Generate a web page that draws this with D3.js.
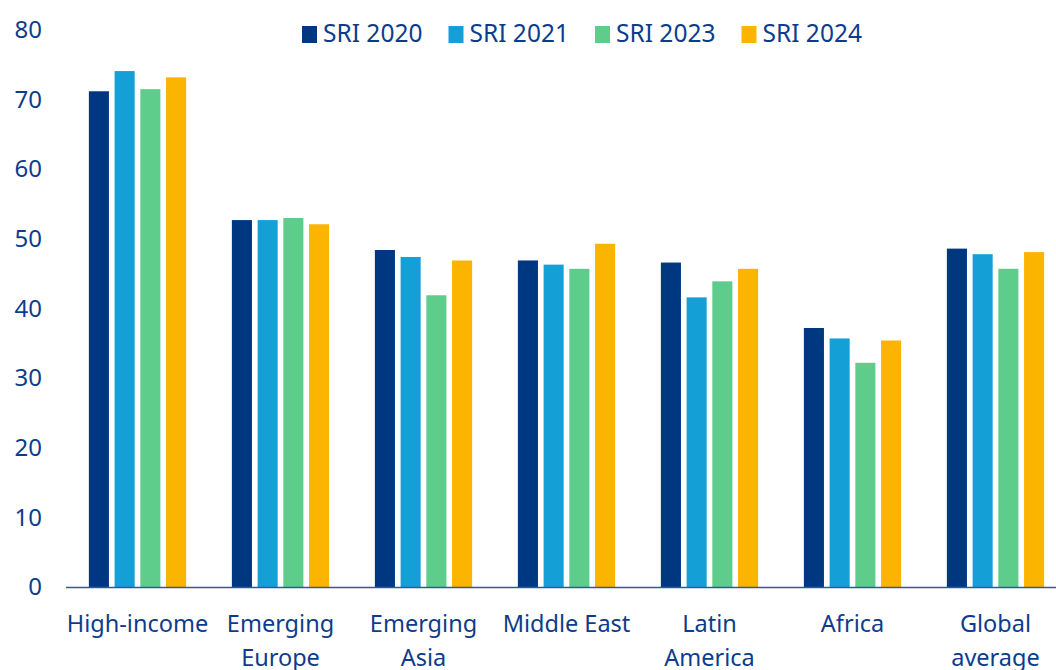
<!DOCTYPE html>
<html>
<head>
<meta charset="utf-8">
<script src="https://d3js.org/d3.v7.min.js"></script>
<style>
  body { margin: 0; background: #fff; }
  text { font-family: "Noto Sans", sans-serif; fill: #0d3c8c; }
</style>
</head>
<body>
<svg id="chart" width="1056" height="670"></svg>
<script>
  // data
  const regions = [["High-income"], ["Emerging", "Europe"], ["Emerging", "Asia"], ["Middle East"],
                   ["Latin", "America"], ["Africa"], ["Global", "average"]];
  const seriesNames = ["SRI 2020", "SRI 2021", "SRI 2023", "SRI 2024"];
  const sri2020 = [71.2, 52.7, 48.4, 46.9, 46.6, 37.2, 48.6];
  const sri2021 = [74.1, 52.7, 47.4, 46.3, 41.6, 35.7, 47.8];
  const sri2023 = [71.5, 53.0, 41.9, 45.7, 43.9, 32.2, 45.7];
  const sri2024 = [73.2, 52.1, 46.9, 49.3, 45.7, 35.4, 48.1];
  const yTicks = [0, 10, 20, 30, 40, 50, 60, 70, 80];
  const colors = ["#003781", "#14a0d6", "#5ecc8a", "#fbb400"];

  const series = [sri2020, sri2021, sri2023, sri2024];
  const svg = d3.select("#chart");

  const x0 = d3.scaleBand()
    .domain(d3.range(regions.length))
    .range([66, 1067])
    .paddingInner(0.32)
    .paddingOuter(0.16);
  const x1 = d3.scaleBand()
    .domain(d3.range(seriesNames.length))
    .range([0, x0.bandwidth()])
    .paddingInner(0.22);
  const y = d3.scaleLinear().domain([0, 80]).range([587, 30]);

  // bars
  const groups = svg.selectAll("g.grp")
    .data(regions)
    .join("g")
    .attr("class", "grp")
    .attr("transform", (d, i) => `translate(${x0(i)},0)`);
  groups.selectAll("rect")
    .data((d, i) => series.map((s, k) => ({k: k, v: s[i]})))
    .join("rect")
    .attr("x", d => x1(d.k))
    .attr("y", d => y(d.v))
    .attr("width", x1.bandwidth())
    .attr("height", d => y(0) - y(d.v))
    .attr("fill", d => colors[d.k]);

  // y axis labels (no line)
  const yAxis = svg.append("g")
    .attr("transform", "translate(42,0)")
    .call(d3.axisLeft(y).tickValues(yTicks).tickSize(0).tickPadding(0));
  yAxis.select(".domain").remove();
  yAxis.selectAll("text").style("font-size", "24px").attr("fill", "#0d3c8c");

  // baseline
  svg.append("line")
    .attr("x1", 66).attr("x2", 1056)
    .attr("y1", y(0) + 0.5).attr("y2", y(0) + 0.5)
    .attr("stroke", "#2c5aa0").attr("stroke-width", 1.5);

  // category labels
  const xl = svg.append("g");
  regions.forEach((lines, i) => {
    const t = xl.append("text")
      .attr("text-anchor", "middle")
      .attr("x", x0(i) + x0.bandwidth() / 2)
      .attr("y", 632)
      .style("font-size", "23.5px");
    lines.forEach((ln, j) => {
      t.append("tspan")
        .attr("x", x0(i) + x0.bandwidth() / 2)
        .attr("dy", j === 0 ? 0 : 34)
        .text(ln);
    });
  });

  // legend
  const legend = svg.append("g");
  seriesNames.forEach((name, k) => {
    const lx = 302 + k * 146.5;
    legend.append("rect")
      .attr("x", lx).attr("y", 26)
      .attr("width", 15).attr("height", 17)
      .attr("fill", colors[k]);
    legend.append("text")
      .attr("x", lx + 21).attr("y", 42)
      .style("font-size", "24.5px")
      .text(name);
  });
</script>
</body>
</html>
